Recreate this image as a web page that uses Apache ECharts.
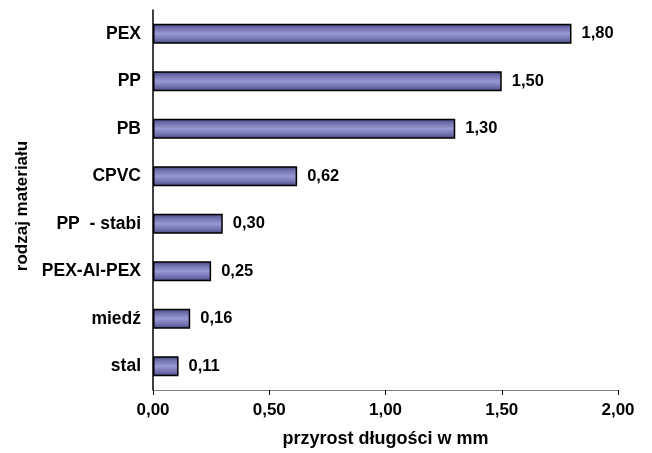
<!DOCTYPE html>
<html><head><meta charset="utf-8">
<script src="https://cdn.jsdelivr.net/npm/echarts@6/dist/echarts.min.js"></script>
<style>html,body{margin:0;padding:0;background:#fff}#c{width:652px;height:453px}</style>
</head><body><div id="c"></div>
<script>
const categories = ['stal', 'miedź', 'PEX-Al-PEX', 'PP  - stabi', 'CPVC', 'PB', 'PP', 'PEX'];
const values = [0.11, 0.16, 0.25, 0.30, 0.62, 1.30, 1.50, 1.80];
const xTicks = [0, 0.5, 1, 1.5, 2];
const fmt = v => v.toFixed(2).replace('.', ',');
const font = 'Arial, "Liberation Sans", sans-serif';
const chart = echarts.init(document.getElementById('c'));
chart.setOption({
  animation: false,
  grid: {left: 153, right: 34, top: 10, bottom: 63, containLabel: false, outerBoundsMode: 'none'},
  xAxis: {
    type: 'value', min: xTicks[0], max: xTicks[xTicks.length - 1], interval: 0.5,
    name: 'przyrost długości w mm', nameLocation: 'middle', nameGap: 40,
    nameTextStyle: {fontFamily: font, fontWeight: 'bold', fontSize: 18, color: '#000'},
    axisLine: {show: true, lineStyle: {color: '#808080', width: 1}},
    axisTick: {show: true, length: 5, lineStyle: {color: '#000'}},
    axisLabel: {formatter: fmt, fontFamily: font, fontWeight: 'bold', fontSize: 17, color: '#000', margin: 12},
    splitLine: {show: false}
  },
  yAxis: {
    type: 'category', data: categories,
    name: 'rodzaj materiału', nameLocation: 'middle', nameGap: 121, nameRotate: 90,
    nameTextStyle: {fontFamily: font, fontWeight: 'bold', fontSize: 17, color: '#000', padding: [0, 12, 0, 0]},
    axisLine: {show: true, lineStyle: {color: '#000', width: 1.5}},
    axisTick: {show: false},
    axisLabel: {fontFamily: font, fontWeight: 'bold', fontSize: 17.5, color: '#000', margin: 12}
  },
  series: [{
    type: 'bar', data: values, barWidth: 20,
    itemStyle: {
      color: new echarts.graphic.LinearGradient(0, 0, 0, 1, [
        {offset: 0, color: '#40407a'},
        {offset: 0.2, color: '#6e6eac'},
        {offset: 0.5, color: '#9898d2'},
        {offset: 0.8, color: '#6e6eac'},
        {offset: 1, color: '#40407a'}
      ]),
      borderColor: '#000', borderWidth: 1.5
    },
    label: {show: true, position: 'right', distance: 10, formatter: p => fmt(p.value),
      fontFamily: font, fontWeight: 'bold', fontSize: 16.5, color: '#000'}
  }]
});
</script></body></html>
